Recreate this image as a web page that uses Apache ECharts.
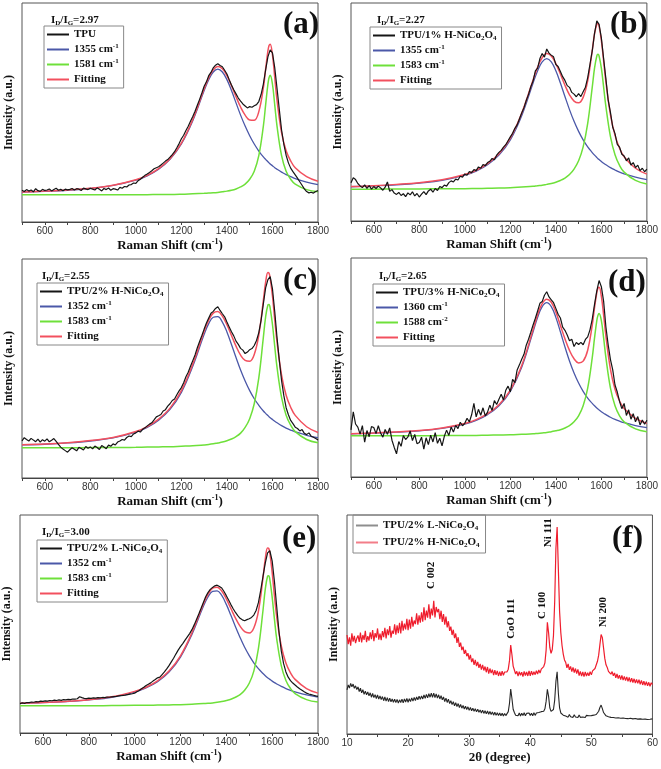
<!DOCTYPE html>
<html>
<head>
<meta charset="utf-8">
<script src="https://cdn.jsdelivr.net/npm/echarts@6/dist/echarts.min.js"></script>
<style>
  html, body { margin: 0; background: #fff; }
  #main { width: 661px; height: 769px; }
</style>
</head>
<body>
<div id="main"></div>
<script>
const SERIF = '"Liberation Serif", "Times New Roman", serif'
const SANS = '"Liberation Sans", Arial, sans-serif'

// ---- Raman fits, sampled on this shift grid (cm-1), intensity in % of panel height
const fitShift = [500, 600, 700, 800, 900, 1000, 1050, 1100, 1150, 1200, 1250, 1300, 1320, 1340, 1360, 1380, 1400, 1420, 1440, 1460, 1480, 1500, 1520, 1540, 1560, 1570, 1580, 1585, 1590, 1600, 1610, 1620, 1640, 1660, 1680, 1700, 1750, 1800]

const dBandA = [13.6, 14.0, 14.5, 15.3, 16.7, 19.1, 21.1, 24.1, 28.6, 35.6, 46.2, 60.0, 65.0, 68.5, 69.8, 68.5, 65.0, 60.0, 54.4, 48.8, 43.8, 39.4, 35.6, 32.4, 29.7, 28.6, 27.5, 27.0, 26.5, 25.7, 24.8, 24.1, 22.8, 21.6, 20.7, 19.8, 18.2, 17.1]
const gBandA = [12.4, 12.4, 12.4, 12.4, 12.4, 12.5, 12.5, 12.6, 12.6, 12.7, 12.9, 13.1, 13.2, 13.3, 13.5, 13.8, 14.1, 14.5, 15.1, 16.0, 17.3, 19.5, 23.2, 30.3, 43.8, 53.5, 62.9, 65.9, 67.0, 62.9, 53.5, 43.8, 30.3, 23.2, 19.5, 17.3, 14.8, 13.8]
const fitSumA = [13.7, 14.1, 14.6, 15.4, 16.8, 19.3, 21.3, 24.4, 28.9, 36.0, 46.8, 60.8, 65.9, 69.5, 71.0, 70.0, 66.8, 62.2, 57.2, 52.5, 48.8, 46.6, 46.5, 50.4, 61.2, 69.8, 78.1, 80.6, 81.2, 76.3, 66.0, 55.6, 40.8, 32.5, 27.9, 24.8, 20.7, 18.6]

const dBandB = [15.7, 16.1, 16.6, 17.4, 18.6, 21.0, 22.9, 25.8, 30.2, 37.2, 48.3, 63.3, 68.9, 73.0, 74.5, 73.0, 68.9, 63.3, 57.1, 51.1, 45.7, 41.1, 37.2, 34.0, 31.4, 30.2, 29.1, 28.6, 28.2, 27.3, 26.5, 25.8, 24.5, 23.4, 22.4, 21.6, 20.1, 19.0]
const gBandB = [14.6, 14.6, 14.7, 14.7, 14.8, 14.8, 14.9, 15.0, 15.1, 15.3, 15.6, 15.9, 16.2, 16.4, 16.8, 17.2, 17.8, 18.6, 19.7, 21.3, 23.8, 27.6, 34.0, 44.8, 61.4, 70.1, 75.7, 76.5, 75.7, 70.1, 61.4, 52.5, 38.7, 30.4, 25.5, 22.4, 18.6, 17.0]
const fitSumB = [15.8, 16.2, 16.8, 17.6, 18.9, 21.3, 23.3, 26.3, 30.8, 38.0, 49.4, 64.7, 70.6, 74.9, 76.8, 75.7, 72.2, 67.4, 62.3, 57.9, 55.0, 54.2, 56.7, 64.3, 78.3, 85.8, 90.3, 90.6, 89.4, 82.9, 73.4, 63.8, 48.7, 39.3, 33.4, 29.5, 24.2, 21.5]

const dBandC = [15.1, 15.4, 16.0, 16.9, 18.3, 20.9, 23.1, 26.4, 31.3, 39.1, 51.0, 65.6, 70.5, 73.4, 73.7, 71.2, 66.7, 61.0, 55.0, 49.3, 44.3, 39.9, 36.2, 33.2, 30.6, 29.5, 28.5, 28.0, 27.5, 26.7, 25.9, 25.2, 23.9, 22.8, 21.9, 21.1, 19.5, 18.4]
const gBandC = [13.8, 13.8, 13.8, 13.9, 13.9, 14.0, 14.1, 14.2, 14.3, 14.5, 14.7, 15.1, 15.3, 15.6, 16.0, 16.4, 17.0, 17.8, 18.9, 20.5, 23.1, 27.1, 33.9, 45.7, 64.2, 73.6, 79.0, 79.2, 77.5, 70.1, 60.1, 50.6, 36.8, 28.7, 24.1, 21.2, 17.6, 16.1]
const fitSumC = [15.2, 15.5, 16.1, 17.1, 18.5, 21.2, 23.5, 26.9, 31.9, 39.9, 52.0, 67.0, 72.1, 75.3, 76.0, 73.9, 70.0, 65.1, 60.2, 56.1, 53.7, 53.3, 56.4, 65.2, 81.1, 89.4, 93.8, 93.5, 91.3, 83.1, 72.3, 62.1, 47.0, 37.8, 32.3, 28.6, 23.4, 20.8]

const dBandD = [19.7, 20.0, 20.5, 21.1, 22.2, 24.2, 25.9, 28.5, 32.5, 39.1, 50.1, 66.3, 72.9, 77.8, 79.6, 77.8, 72.9, 66.3, 59.4, 53.0, 47.5, 42.9, 39.1, 36.0, 33.6, 32.5, 31.5, 31.1, 30.6, 29.8, 29.1, 28.5, 27.3, 26.3, 25.5, 24.8, 23.5, 22.5]
const gBandD = [18.8, 18.8, 18.8, 18.8, 18.9, 18.9, 19.0, 19.1, 19.2, 19.3, 19.5, 19.7, 19.9, 20.1, 20.3, 20.7, 21.1, 21.6, 22.4, 23.5, 25.2, 27.9, 32.5, 40.6, 54.5, 63.5, 71.4, 73.8, 74.7, 71.4, 63.5, 54.5, 40.6, 32.5, 27.9, 25.2, 22.0, 20.7]
const fitSumD = [19.8, 20.1, 20.6, 21.2, 22.4, 24.4, 26.2, 28.9, 33.0, 39.7, 50.9, 67.3, 74.1, 79.2, 81.2, 79.8, 75.3, 69.2, 63.1, 57.8, 54.0, 52.1, 52.9, 57.9, 69.4, 77.3, 84.2, 86.2, 86.6, 82.5, 73.9, 64.3, 49.2, 40.1, 34.7, 31.3, 26.8, 24.5]

const dBandE = [13.6, 13.9, 14.4, 15.2, 16.4, 18.8, 20.7, 23.5, 27.9, 34.8, 45.2, 58.1, 62.4, 65.0, 65.2, 63.1, 59.0, 54.0, 48.7, 43.8, 39.3, 35.5, 32.2, 29.5, 27.3, 26.3, 25.4, 25.0, 24.6, 23.8, 23.1, 22.5, 21.4, 20.4, 19.6, 18.9, 17.5, 16.5]
const gBandE = [12.5, 12.5, 12.5, 12.5, 12.6, 12.7, 12.7, 12.8, 12.9, 13.0, 13.2, 13.5, 13.6, 13.8, 14.1, 14.4, 14.9, 15.5, 16.4, 17.6, 19.6, 22.8, 28.4, 38.7, 56.2, 66.0, 71.9, 72.1, 70.3, 62.3, 52.2, 43.1, 30.8, 24.1, 20.4, 18.1, 15.3, 14.2]
const fitSumE = [13.7, 14.0, 14.5, 15.3, 16.6, 19.1, 21.0, 23.9, 28.4, 35.4, 46.0, 59.2, 63.6, 66.4, 66.9, 65.1, 61.5, 57.1, 52.7, 49.0, 46.5, 45.9, 48.2, 55.8, 71.1, 79.9, 84.9, 84.7, 82.5, 73.7, 62.9, 53.2, 39.8, 32.1, 27.6, 24.6, 20.4, 18.3]

// ---- measured Raman spectra, one reading every 10 cm-1 starting at 500
const spectrumStart = 500
const spectrumStep = 10
const measuredA = [
  14.5,13.9,14.8,14.1,14.6,13.8,15.2,14.3,14.0,14.9,14.4,
  14.6,15.1,14.2,14.8,15.4,14.5,14.9,14.3,15.0,14.7,
  14.9,15.3,14.6,15.2,15.0,14.4,15.5,15.1,14.8,15.4,
  15.0,14.6,15.6,14.9,14.2,15.3,14.8,15.5,14.5,15.2,
  15.0,14.6,15.8,15.4,16.2,16.0,16.9,17.1,17.8,17.6,
  18.9,19.5,20.4,21.3,21.9,22.6,23.4,24.3,24.8,25.2,
  26.0,26.9,27.8,28.5,29.6,30.8,32.1,33.9,35.8,38.0,
  39.6,41.8,43.7,46.0,48.2,50.6,53.3,56.0,58.9,62.0,
  64.0,66.8,68.3,70.4,71.6,72.3,71.5,70.9,69.3,67.6,
  65.0,62.6,60.4,58.5,56.6,55.2,53.9,53.0,52.1,52.7,
  52.4,53.1,53.6,55.0,58.2,63.0,69.5,75.4,78.6,77.2,
  70.5,61.0,51.5,42.0,35.5,30.5,27.0,24.6,23.0,21.5,
  20.0,18.4,16.8,15.1,13.9,13.3,13.6,13.2,13.9,14.3]
const measuredB = [
  17.5,19.8,19.0,17.2,16.1,15.3,16.6,15.0,16.2,14.6,15.8,
  14.9,16.0,15.2,14.1,15.5,17.9,13.6,14.4,12.8,12.2,
  13.1,11.7,12.5,11.2,12.9,12.0,13.4,11.5,12.6,11.0,
  12.3,13.5,12.1,13.8,14.6,13.2,14.9,14.0,15.8,15.3,
  16.5,16.0,17.6,18.4,17.9,19.2,18.8,20.5,20.1,21.6,
  21.0,22.7,22.2,23.6,23.1,24.8,24.2,25.9,25.4,26.8,
  27.4,28.7,28.1,30.2,31.5,32.4,33.9,35.0,36.8,38.6,
  40.2,42.5,44.1,46.8,49.5,52.0,55.3,58.1,61.6,64.2,
  68.9,70.1,74.5,76.8,75.2,78.9,77.0,76.1,75.3,71.8,
  70.9,68.6,66.2,64.5,62.1,61.3,59.0,58.2,57.0,58.4,
  57.1,59.3,61.4,65.8,71.9,78.0,86.1,91.8,90.2,84.0,
  74.5,65.2,55.4,49.8,43.0,40.1,35.2,33.9,30.6,29.8,
  27.6,28.9,25.7,26.8,24.5,25.6,23.1,24.2,22.6,23.8]
const measuredC = [
  17.0,18.4,17.6,16.9,18.1,17.3,16.6,17.8,16.4,17.5,16.8,
  17.9,16.5,17.2,18.0,16.7,15.4,14.1,13.2,12.5,11.8,
  12.9,13.8,13.1,12.4,14.0,13.5,12.8,14.4,13.6,14.2,
  13.3,14.6,13.9,13.0,14.8,14.1,13.4,15.0,14.5,15.6,
  15.1,16.4,16.9,17.6,17.3,18.5,19.2,18.9,20.1,20.6,
  21.4,21.0,22.3,22.9,23.8,24.6,25.2,26.5,27.9,28.4,
  29.0,30.6,31.2,32.8,33.9,35.4,36.1,38.0,39.8,41.3,
  43.5,46.2,48.3,51.0,53.6,56.2,59.5,62.3,65.1,68.0,
  70.8,73.0,75.2,76.1,77.4,78.2,76.5,75.0,73.6,71.2,
  69.0,66.8,64.9,62.5,61.0,59.2,58.4,56.8,57.5,58.6,
  59.1,60.5,62.8,66.4,72.0,79.5,86.8,90.6,92.0,86.4,
  76.0,64.2,53.8,44.5,37.6,32.1,28.9,26.3,24.8,23.2,
  22.6,21.5,22.1,20.4,19.8,20.6,19.1,18.6,18.0,17.4]
const measuredD = [
  21.5,29.8,24.2,22.8,19.6,23.5,15.9,21.2,18.4,23.0,22.6,
  19.8,23.4,20.1,18.2,21.7,19.5,22.4,16.8,13.5,10.6,
  16.2,14.0,18.9,17.1,18.3,21.0,16.6,19.4,15.2,15.8,
  18.2,12.7,17.9,14.8,19.1,16.0,20.3,15.4,17.7,14.2,
  18.6,21.4,19.0,22.8,20.5,23.6,22.1,25.0,23.4,24.5,
  26.8,25.1,28.4,33.6,27.5,30.9,28.2,31.6,27.9,29.6,
  32.8,30.4,34.9,33.1,35.5,37.8,35.2,39.6,41.5,38.9,
  44.6,43.1,48.9,51.2,53.8,56.0,60.2,62.9,66.1,69.4,
  72.5,75.8,79.3,80.1,83.0,84.6,82.2,80.9,79.6,77.0,
  74.3,72.6,68.4,67.0,64.8,62.2,62.9,59.6,61.4,60.5,
  61.5,60.4,62.8,64.0,67.2,72.1,78.8,85.0,89.7,86.9,
  80.2,68.5,60.3,53.6,48.9,42.0,38.8,34.5,31.2,33.6,
  28.1,30.7,26.4,28.9,25.2,27.6,23.8,26.0,24.1,25.9]
const measuredE = [
  13.5,13.8,13.6,14.0,13.9,14.2,14.1,14.4,14.3,14.6,14.5,
  14.7,14.6,14.9,14.8,15.1,14.9,15.2,15.0,15.3,15.2,
  15.4,15.3,15.6,15.5,15.7,16.6,16.2,15.9,15.8,16.0,
  15.9,16.1,16.0,16.2,16.1,16.3,16.2,16.5,16.4,16.6,
  16.7,16.8,17.0,17.1,17.3,17.4,17.6,17.8,18.0,18.3,
  18.9,19.5,20.3,21.0,21.8,22.4,23.0,23.8,24.5,25.3,
  25.6,26.8,28.0,29.4,30.9,32.6,34.3,36.2,38.0,39.6,
  41.0,42.6,44.1,45.6,47.4,49.6,52.1,54.6,57.2,59.9,
  62.5,64.4,65.9,66.8,67.5,67.8,67.2,66.5,64.9,63.0,
  61.0,58.9,57.0,55.3,53.8,52.6,51.9,51.5,52.0,52.4,
  53.0,54.1,56.2,59.8,65.4,71.8,77.9,82.6,83.6,79.0,
  69.5,57.8,46.2,37.5,31.8,28.0,25.6,24.0,22.9,22.0,
  21.1,20.3,19.6,18.9,18.3,17.9,17.6,17.3,17.0,16.8]

// ---- XRD patterns, one reading every 0.2 degree starting at 10
const xrdStart = 10
const xrdStep = 0.2
const xrdLow = [
  20.1,22.4,21.0,23.1,21.6,22.8,20.9,22.0,20.3,21.5,
  19.4,20.9,18.8,20.2,18.1,19.6,17.9,19.2,17.4,18.8,
  16.8,18.5,16.6,18.0,16.2,17.8,15.9,17.4,15.7,17.1,
  15.2,16.9,15.0,16.6,14.8,16.4,14.7,16.0,14.5,15.9,
  14.3,15.8,14.1,15.6,14.4,15.9,14.2,16.0,14.6,16.2,
  14.5,16.1,14.8,16.5,15.0,16.7,15.3,16.9,15.6,17.3,
  15.8,17.4,16.0,17.8,16.3,18.1,16.5,18.4,16.8,18.6,
  16.7,18.7,16.6,18.3,16.4,17.9,16.0,17.5,15.6,16.9,
  14.8,16.4,14.4,15.9,13.9,15.2,13.4,14.8,12.9,14.3,
  12.5,13.9,12.1,13.5,11.8,13.0,11.4,12.7,11.2,12.4,
  10.8,12.1,10.6,11.8,10.4,11.5,10.1,11.3,9.9,11.0,
  9.6,10.9,9.4,10.6,9.2,10.5,9.0,10.3,8.9,10.1,
  8.6,9.9,8.5,9.7,8.4,9.6,8.3,9.5,8.2,9.4,
  8.4,9.3,10.2,14.0,20.5,16.2,11.3,9.8,8.6,9.5,
  8.3,9.6,8.2,9.5,8.4,9.7,8.3,9.4,8.5,9.6,
  8.4,9.5,8.3,9.7,8.5,9.6,8.7,9.8,9.0,10.2,
  9.6,10.4,11.5,15.0,20.4,17.2,12.0,10.3,9.8,11.2,
  15.5,24.0,28.4,18.6,11.9,9.6,9.0,8.6,9.3,8.2,
  8.8,7.7,8.9,7.9,8.6,7.6,8.8,7.8,8.5,7.5,
  8.7,7.6,8.4,7.8,8.6,7.5,8.5,7.7,8.3,7.6,
  8.4,7.7,8.6,8.0,8.9,9.2,10.4,12.1,13.2,11.6,
  9.8,8.9,8.3,8.8,7.9,8.5,7.6,8.3,7.5,8.1,
  7.3,8.2,7.4,8.0,7.2,7.9,7.3,8.1,7.1,7.8,
  7.0,7.9,7.2,7.7,6.9,7.8,7.1,7.6,6.8,7.5,
  6.9,7.6,6.7,7.4,6.8,7.5,6.6,7.3,6.7,7.2,
  6.9]
const xrdHigh = [
  45.2,41.0,44.1,40.3,46.0,42.2,44.8,41.5,43.6,45.0,
  42.1,46.3,41.8,45.2,43.0,47.1,41.9,44.7,42.6,46.4,
  43.3,47.5,42.4,46.1,44.0,48.2,43.1,45.8,42.9,47.0,
  44.2,48.5,43.6,47.8,45.1,49.3,44.0,47.2,45.8,50.1,
  45.3,49.6,46.0,50.8,45.9,51.7,47.2,50.4,47.8,52.6,
  47.4,52.3,48.1,53.5,49.0,51.8,50.2,55.1,49.9,54.2,
  50.8,55.6,51.3,57.9,52.0,56.4,53.1,59.2,52.6,57.3,
  54.1,60.8,53.2,58.0,55.6,57.1,52.4,56.3,51.2,54.8,
  49.9,53.6,48.7,51.5,47.1,49.0,45.2,47.6,43.8,45.9,
  41.6,44.2,39.8,41.7,38.3,39.9,36.6,38.4,35.5,36.9,
  34.0,36.1,32.8,34.5,31.6,33.8,31.0,32.9,30.2,32.0,
  29.4,31.6,29.0,30.8,28.2,30.6,27.6,29.9,27.8,29.4,
  26.9,29.1,27.0,28.8,26.5,28.5,26.6,28.7,26.8,28.3,
  27.8,28.4,29.6,33.5,40.6,36.2,31.0,29.2,27.4,28.6,
  26.4,28.5,26.8,28.2,26.2,28.6,26.7,28.3,26.5,28.8,
  26.6,28.7,26.9,28.4,27.1,28.9,27.4,29.2,27.8,29.6,
  29.0,30.8,32.5,38.4,51.0,46.2,39.5,36.8,38.6,45.0,
  60.5,84.8,94.5,75.2,56.0,46.3,40.4,36.5,33.8,32.7,
  30.2,32.0,29.3,30.9,28.5,30.4,28.0,29.9,27.6,29.5,
  26.7,28.6,26.4,28.3,26.2,28.4,26.5,28.0,26.6,28.5,
  27.0,28.8,28.1,29.9,30.6,33.2,36.0,40.8,45.4,44.0,
  39.2,34.5,31.6,30.4,28.6,29.4,27.3,28.5,26.6,27.9,
  25.6,27.4,25.3,26.9,24.8,26.8,24.6,26.3,24.4,26.1,
  24.0,25.8,23.7,25.5,23.5,25.2,23.3,24.9,23.1,24.8,
  22.7,24.5,22.4,24.1,22.2,23.9,22.0,23.6,21.8,23.4,
  22.6]

// ---- texts
const sampleNames = ['TPU', 'TPU/1% H-NiCo2O4', 'TPU/2% H-NiCo2O4', 'TPU/3% H-NiCo2O4', 'TPU/2% L-NiCo2O4']
const dBandNames = ['1355 cm-1', '1355 cm-1', '1352 cm-1', '1360 cm-1', '1352 cm-1']
const gBandNames = ['1581 cm-1', '1583 cm-1', '1583 cm-1', '1588 cm-2', '1583 cm-1']
const ratioText = ['2.97', '2.27', '2.55', '2.65', '3.00']
const panelLetters = ['(a)', '(b)', '(c)', '(d)', '(e)', '(f)']
const ramanTickLabels = [600, 800, 1000, 1200, 1400, 1600, 1800]
const xrdNames = ['TPU/2% L-NiCo2O4', 'TPU/2% H-NiCo2O4']
const peakNames = ['C 002', 'CoO 111', 'C 100', 'Ni 111', 'Ni 200']
const peakAngle = [23.8, 36.9, 42.0, 42.9, 52.0]
const peakLevel = [72.4, 52.6, 58.7, 91.9, 55.6]

const measured = [measuredA, measuredB, measuredC, measuredD, measuredE]
const dBands = [dBandA, dBandB, dBandC, dBandD, dBandE]
const gBands = [gBandA, gBandB, gBandC, gBandD, gBandE]
const fitSums = [fitSumA, fitSumB, fitSumC, fitSumD, fitSumE]

// panel boxes: grid [left, top, width, height], legend [left, top], ratio text, panel letter
const layout = [
  { grid: [22, 3, 296, 219], legend: [44, 26], ratio: [46, 9], letter: [278, 4] },
  { grid: [351, 3, 297, 218], legend: [370, 27], ratio: [372, 9], letter: [605, 4] },
  { grid: [22, 259, 296, 219], legend: [37, 283], ratio: [37, 265], letter: [278, 260] },
  { grid: [351, 258, 297, 219], legend: [373, 284], ratio: [374, 265], letter: [603, 262] },
  { grid: [20, 515, 298, 218], legend: [37, 540], ratio: [37, 521], letter: [277, 518] },
  { grid: [347, 515, 307, 219], legend: [353, 515], letter: [607, 518] }
]

const colors = { raw: '#151515', d: '#4b58a8', g: '#6ee03a', fit: '#f2505e', low: '#262626', high: '#ef1d2d' }

const smallRich = {
  sub: { fontSize: 7, fontWeight: 'bold', fontFamily: SERIF, color: '#111', verticalAlign: 'bottom', lineHeight: 8 },
  sup: { fontSize: 7, fontWeight: 'bold', fontFamily: SERIF, color: '#111', verticalAlign: 'top', lineHeight: 8 }
}

function richName(s) {
  return s.replace('NiCo2O4', 'NiCo{sub|2}O{sub|4}')
    .replace('cm-1', 'cm{sup|-1}')
    .replace('cm-2', 'cm{sup|-2}')
}

function pairs(xs, ys) {
  return ys.map((y, i) => [xs[i], y])
}

function sampled(start, step, ys) {
  // x of each reading from the instrument's sampling grid
  return ys.map((y, i) => [+(start + i * step).toFixed(2), y])
}

const grids = [], xAxes = [], yAxes = [], series = [], legends = [], titles = []

layout.forEach((p, i) => {
  const isXrd = i === 5
  const tag = '#' + i
  grids.push({
    left: p.grid[0], top: p.grid[1], width: p.grid[2], height: p.grid[3],
    show: true, borderColor: '#555', borderWidth: 1
  })
  xAxes.push({
    gridIndex: i,
    type: 'value',
    min: isXrd ? 10 : 500,
    max: isXrd ? 60 : 1800,
    interval: isXrd ? 10 : 100,
    name: isXrd ? '2θ (degree)' : 'Raman Shift (cm{sup|-1})',
    nameLocation: 'middle',
    nameGap: 16,
    nameTextStyle: {
      fontFamily: SERIF, fontWeight: 'bold', fontSize: 13, color: '#111', lineHeight: 15,
      rich: { sup: { fontSize: 8, fontWeight: 'bold', fontFamily: SERIF, color: '#111', verticalAlign: 'top', lineHeight: 9 } }
    },
    axisLine: { lineStyle: { color: '#444' } },
    axisTick: { length: 3, lineStyle: { color: '#444' } },
    minorTick: { show: isXrd, splitNumber: 2, length: 3, lineStyle: { color: '#444' } },
    axisLabel: {
      fontFamily: SANS, fontSize: 10, color: '#333', margin: 4,
      formatter: v => (isXrd || ramanTickLabels.includes(v)) ? String(v) : ''
    },
    splitLine: { show: false }
  })
  yAxes.push({
    gridIndex: i,
    type: 'value',
    min: 0,
    max: 100,
    name: 'Intensity (a.u.)',
    nameLocation: 'middle',
    nameGap: 7,
    nameTextStyle: { fontFamily: SERIF, fontWeight: 'bold', fontSize: 12, color: '#111' },
    axisLine: { show: false },
    axisTick: { show: false },
    axisLabel: { show: false },
    splitLine: { show: false }
  })

  const lineBase = { type: 'line', xAxisIndex: i, yAxisIndex: i, showSymbol: false, symbol: 'none', silent: true }
  let names
  if (!isXrd) {
    names = [sampleNames[i] + tag, dBandNames[i] + tag, gBandNames[i] + tag, 'Fitting' + tag]
    series.push(
      { ...lineBase, name: names[1], data: pairs(fitShift, dBands[i]), smooth: 0.4, color: colors.d, lineStyle: { width: 1.3, color: colors.d } },
      { ...lineBase, name: names[2], data: pairs(fitShift, gBands[i]), smooth: 0.4, color: colors.g, lineStyle: { width: 1.5, color: colors.g } },
      { ...lineBase, name: names[3], data: pairs(fitShift, fitSums[i]), smooth: 0.4, color: colors.fit, lineStyle: { width: 1.5, color: colors.fit } },
      // measured spectrum drawn over the fits, as in the figure
      { ...lineBase, name: names[0], data: sampled(spectrumStart, spectrumStep, measured[i]), color: colors.raw, lineStyle: { width: 1.2, color: colors.raw } }
    )
    titles.push({
      left: p.ratio[0], top: p.ratio[1],
      text: 'I{sub|D}/I{sub|G}=' + ratioText[i],
      textStyle: { fontFamily: SERIF, fontWeight: 'bold', fontSize: 11, color: '#111', lineHeight: 13, rich: smallRich }
    })
  } else {
    names = [xrdNames[0] + tag, xrdNames[1] + tag]
    series.push(
      { ...lineBase, name: names[0], data: sampled(xrdStart, xrdStep, xrdLow), color: colors.low, lineStyle: { width: 1.1, color: colors.low } },
      { ...lineBase, name: names[1], data: sampled(xrdStart, xrdStep, xrdHigh), color: colors.high, lineStyle: { width: 1.2, color: colors.high } }
    )
  }
  titles.push({
    left: p.letter[0], top: p.letter[1],
    text: panelLetters[i],
    textStyle: { fontFamily: SERIF, fontWeight: 'bold', fontSize: 31, color: '#111' }
  })
  legends.push({
    data: isXrd
      ? [{ name: names[0], itemStyle: { color: '#8e8e8e' } }, { name: names[1], itemStyle: { color: '#f27d88' } }]
      : names,
    orient: 'vertical',
    left: p.legend[0],
    top: p.legend[1],
    selectedMode: false,
    borderColor: '#888',
    borderWidth: 1,
    borderRadius: 0,
    padding: isXrd ? [4, 6, 4, 3] : [2, 5, 2, 3],
    itemGap: isXrd ? 4 : 2,
    itemWidth: 22,
    itemHeight: 2,
    icon: 'rect',
    textStyle: { fontFamily: SERIF, fontWeight: 'bold', fontSize: 11, color: '#111', lineHeight: 13, rich: smallRich },
    formatter: n => richName(n.split('#')[0])
  })
})

const myChart = echarts.init(document.getElementById('main'))
myChart.setOption({
  animation: false,
  backgroundColor: '#fff',
  title: titles,
  legend: legends,
  grid: grids,
  xAxis: xAxes,
  yAxis: yAxes,
  series: series
})

// XRD peak labels, placed at their data position in panel (f)
const peakGraphics = peakNames.map((t, k) => {
  const pt = myChart.convertToPixel({ gridIndex: 5 }, [peakAngle[k], peakLevel[k]])
  return {
    type: 'text',
    x: pt[0],
    y: pt[1],
    rotation: Math.PI / 2,
    style: { text: t, fontFamily: SERIF, fontWeight: 'bold', fontSize: 11, fill: '#111', align: 'center', verticalAlign: 'middle' }
  }
})
myChart.setOption({ graphic: peakGraphics })
</script>
</body>
</html>
